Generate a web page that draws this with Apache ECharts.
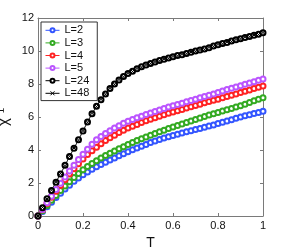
<!DOCTYPE html>
<html>
<head>
<meta charset="utf-8">
<script src="https://cdn.jsdelivr.net/npm/echarts@6/dist/echarts.min.js"></script>
<style>html,body{margin:0;padding:0;background:#fff}#c{width:291px;height:251px}</style>
</head>
<body>
<div id="c"></div>
<script>
const T = [0,0.02,0.04,0.06,0.08,0.10,0.12,0.14,0.16,0.18,0.20,0.22,0.24,0.26,0.28,0.30,0.32,0.34,0.36,0.38,0.40,0.42,0.44,0.46,0.48,0.50,0.52,0.54,0.56,0.58,0.60,0.62,0.64,0.66,0.68,0.70,0.72,0.74,0.76,0.78,0.80,0.82,0.84,0.86,0.88,0.90,0.92,0.94,0.96,0.98,1.00];
const L2 = [0,0.28,0.56,0.84,1.12,1.38,1.63,1.87,2.1,2.31,2.5,2.67,2.83,2.98,3.12,3.26,3.39,3.52,3.65,3.78,3.9,4.01,4.12,4.23,4.34,4.45,4.55,4.64,4.72,4.8,4.88,4.96,5.03,5.1,5.17,5.24,5.31,5.38,5.45,5.52,5.6,5.68,5.76,5.84,5.92,6.0,6.07,6.14,6.21,6.28,6.35];
const L3 = [0,0.32,0.64,0.95,1.25,1.55,1.82,2.08,2.33,2.57,2.8,3.0,3.18,3.35,3.51,3.66,3.8,3.94,4.07,4.2,4.33,4.45,4.57,4.68,4.79,4.9,5.0,5.1,5.2,5.3,5.4,5.49,5.58,5.67,5.76,5.85,5.94,6.03,6.12,6.2,6.28,6.36,6.44,6.52,6.6,6.68,6.78,6.88,6.98,7.08,7.17];
const L4 = [0,0.38,0.76,1.13,1.5,1.85,2.2,2.54,2.87,3.17,3.45,3.72,3.96,4.17,4.38,4.58,4.75,4.9,5.06,5.2,5.33,5.44,5.55,5.66,5.77,5.87,5.96,6.05,6.13,6.22,6.3,6.38,6.46,6.54,6.62,6.7,6.78,6.86,6.94,7.01,7.08,7.16,7.24,7.32,7.4,7.48,7.56,7.64,7.72,7.8,7.88];
const L5 = [0,0.4,0.8,1.2,1.6,1.98,2.36,2.73,3.08,3.42,3.75,4.05,4.35,4.62,4.82,5.0,5.17,5.33,5.47,5.62,5.75,5.85,5.95,6.05,6.15,6.25,6.34,6.43,6.51,6.6,6.68,6.76,6.84,6.92,7.0,7.08,7.16,7.24,7.32,7.4,7.48,7.57,7.66,7.74,7.82,7.9,7.98,8.06,8.14,8.22,8.3];
const L24 = [0,0.5,1.05,1.55,2.05,2.55,3.07,3.6,4.1,4.62,5.15,5.7,6.2,6.65,7.05,7.4,7.72,8.0,8.25,8.45,8.63,8.78,8.92,9.04,9.15,9.25,9.33,9.42,9.5,9.58,9.65,9.72,9.78,9.85,9.92,10.0,10.06,10.12,10.2,10.3,10.38,10.45,10.52,10.6,10.68,10.75,10.82,10.88,10.95,11.02,11.1];
const L48 = [0,0.52,1.03,1.57,2.07,2.57,3.05,3.62,4.12,4.6,5.17,5.68,6.22,6.63,7.07,7.38,7.74,7.98,8.27,8.43,8.65,8.76,8.94,9.02,9.17,9.23,9.35,9.4,9.52,9.56,9.67,9.7,9.8,9.83,9.94,9.98,10.08,10.1,10.22,10.28,10.4,10.43,10.54,10.58,10.7,10.73,10.84,10.86,10.97,11.0,11.12];
const xTicks = [0,0.2,0.4,0.6,0.8,1];
const yTicks = [0,2,4,6,8,10,12];

function pairs(v){ return T.map((t,i)=>[t,v[i]]); }
const font = 'Liberation Sans, Arial, sans-serif';
const axisCol = '#7a7a7a';
function mk(name, data, color, symbol, size){
  return {name, type:'line', data:pairs(data), symbol, symbolSize:size, showSymbol:true,
    lineStyle:{color, width:0.6}, itemStyle:{color, borderColor:color, borderWidth:1},
    emphasis:{disabled:true}, z: 2};
}
const chart = echarts.init(document.getElementById('c'), null, {renderer:'canvas'});
const baseX = {type:'value', min:0, max:1, interval:0.2,
  axisLine:{show:true, onZero:false, lineStyle:{color:axisCol, width:1}},
  axisTick:{show:true, inside:true, length:3, lineStyle:{color:axisCol}},
  splitLine:{show:false}};
const baseY = {type:'value', min:0, max:12, interval:2,
  axisLine:{show:true, onZero:false, lineStyle:{color:axisCol, width:1}},
  axisTick:{show:true, inside:true, length:3, lineStyle:{color:axisCol}},
  splitLine:{show:false}};
chart.setOption({
  animation:false,
  backgroundColor:'#fff',
  grid:{left:38, right:28, top:18, bottom:35, containLabel:false, outerBoundsMode:'none'},
  xAxis:[
    Object.assign({}, baseX, {position:'bottom', name:'T', nameLocation:'middle', nameGap:14,
      nameTextStyle:{fontFamily:font, fontSize:14, color:'#111'},
      axisLabel:{show:true, margin:4, fontFamily:font, fontSize:11, color:'#111',
        formatter:v=>{const k=xTicks.find(t=>Math.abs(t-v)<1e-9); return k===undefined?'':String(k);}}}),
    Object.assign({}, baseX, {position:'top', axisLabel:{show:false}})
  ],
  yAxis:[
    Object.assign({}, baseY, {position:'left', name:'χ⁻¹', nameLocation:'middle', nameGap:21, nameRotate:90,
      nameTextStyle:{fontFamily:font, fontSize:15, color:'#111'},
      axisLabel:{show:true, margin:4, fontFamily:font, fontSize:11, color:'#111',
        formatter:v=>{const k=yTicks.find(t=>Math.abs(t-v)<1e-9); return k===undefined?'':String(k);}}}),
    Object.assign({}, baseY, {position:'right', axisLabel:{show:false}})
  ],
  legend:{orient:'vertical', left:41, top:22, itemWidth:14, itemHeight:5, itemGap:0,
    padding:[2,8,1,4], borderColor:'#333', borderWidth:1, backgroundColor:'#fff',
    lineStyle:{width:1}, itemStyle:{borderWidth:1},
    textStyle:{fontFamily:font, fontSize:11, color:'#111', lineHeight:12.6, height:12.6},
    data:['L=2','L=3','L=4','L=5','L=24','L=48']},
  series:[
    mk('L=2', L2, '#3355ff', 'emptyCircle', 5),
    mk('L=3', L3, '#33aa22', 'emptyCircle', 5),
    mk('L=4', L4, '#ff2222', 'emptyCircle', 5),
    mk('L=5', L5, '#bb55ff', 'emptyCircle', 5),
    mk('L=24', L24, '#000000', 'emptyCircle', 5),
    mk('L=48', L48, '#000000', 'path://M0,0L10,10M10,0L0,10', 4)
  ]
});
</script>
</body>
</html>
